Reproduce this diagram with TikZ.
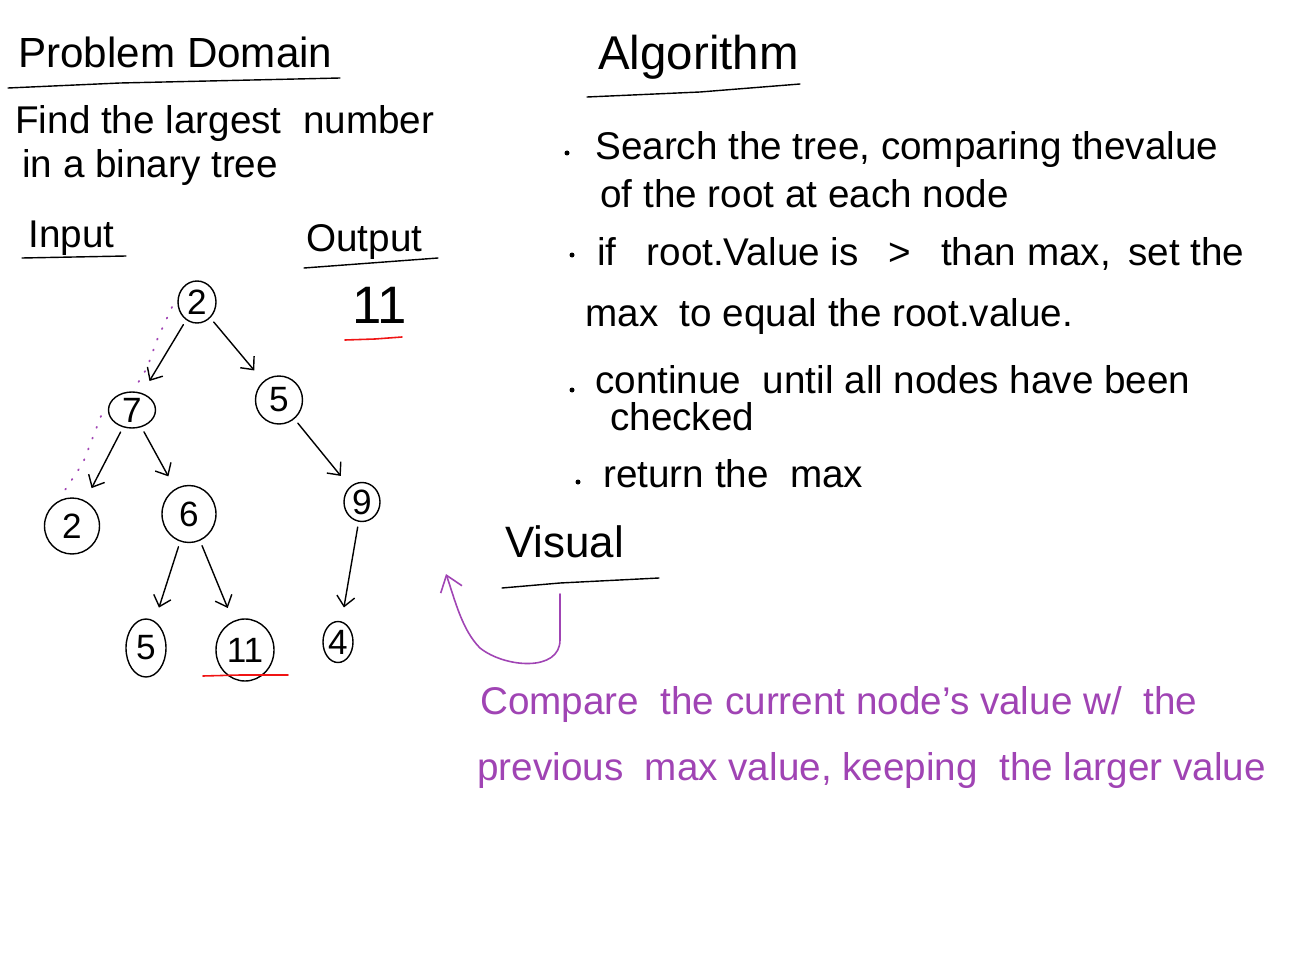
\documentclass[tikz,border=0pt]{standalone}
\usepackage{fontspec}
\setmainfont{Liberation Sans}
\definecolor{sketchPurple}{HTML}{A044B4}
\definecolor{sketchRed}{HTML}{F01414}
\usetikzlibrary{
	arrows.meta,
	shapes.geometric
}
\tikzset{
	textHand/.style={
		anchor=base west,
		inner sep=0pt,
		font=\fontsize{22}{26}\selectfont
	},
	textTitle/.style={
		textHand,
		font=\fontsize{25}{30}\selectfont
	},
	textNote/.style={
		textHand,
		text=sketchPurple
	},
	nodeTree/.style={
		ellipse,
		draw,
		line width=0.8pt,
		inner sep=0pt,
		font=\fontsize{20}{24}\selectfont
	},
	arrowTree/.style={
		-{Straight Barb[length=2mm,width=3.6mm]},
		line width=0.8pt,
		shorten <=3pt,
		shorten >=8pt
	},
	lineUnder/.style={
		line width=0.8pt
	},
	lineRed/.style={
		line width=0.9pt,
		draw=sketchRed
	},
	arrowNote/.style={
		-{Straight Barb[length=3mm,width=4.5mm]},
		line width=0.9pt,
		draw=sketchPurple
	},
	dotNote/.style={
		line width=1pt,
		draw=sketchPurple,
		dash pattern=on 0.6pt off 6pt
	}
}

\begin{document}
\begin{tikzpicture}[x=0.02cm, y=-0.02cm, line cap=round]
		\fill[white] (0,0) rectangle (1306,980);
		\useasboundingbox (0,0) rectangle (1306,980);
		% problem domain
		\node[textTitle, font=\fontsize{24}{29}\selectfont] (domTitle) at (18,68) {Problem Domain};
		\draw[lineUnder] (8,88) -- (120,83) -- (340,78);
		\node[textHand] (domLineA) at (15,133) {Find the largest \ number};
		\node[textHand] (domLineB) at (22,177) {in a binary tree};
		\node[textHand] (inTitle) at (28,248) {Input};
		\draw[lineUnder] (22,258) -- (126,256);
		\node[textHand] (outTitle) at (306,252) {Output};
		\draw[lineUnder] (304,268) -- (438,258);
		\node[textHand, font=\fontsize{30}{34}\selectfont] (outVal) at (352,323) {11};
		\draw[lineRed] (345,340) -- (375,339) -- (402,337);
		% tree
		\foreach \nm/\x/\y/\w/\h/\lab in {nRoot/197/302/38/42/2,nSeven/132/410/47/36/7,nFive/279/400/47/48/5,nTwo/72/526/55/56/2,nSix/189/514/54/57/6,nNine/362/502/36/39/9,nFiveLeaf/146/648/40/58/5,nEleven/245/650/58/62/11,nFour/338/642/30/41/4}{
			\node[nodeTree, minimum width=\w*0.02cm, minimum height=\h*0.02cm] (\nm) at (\x,\y) {\lab};
		}
		\foreach \a/\b in {nRoot/nSeven,nRoot/nFive,nSeven/nTwo,nSeven/nSix,nFive/nNine,nSix/nFiveLeaf,nSix/nEleven,nNine/nFour}{
			\draw[arrowTree] (\a) -- (\b);
		}
		\draw[lineRed] (203,676) -- (240,675) -- (288,675);
		\draw[dotNote] (172,307) -- (157,340) -- (147,368) -- (136,386);
		\draw[dotNote] (101,416) -- (83,463) -- (61,496);
		% algorithm
		\node[textTitle, font=\fontsize{27}{32}\selectfont] (algTitle) at (598,70) {Algorithm};
		\draw[lineUnder] (587,97) -- (700,92) -- (800,84);
		\foreach \x/\y in {567/153,572/255,572/390,578/482}{
			\fill (\x,\y) circle (2.5);
		}
		\node[textHand] (algA) at (595,160) {Search the tree, comparing thevalue};
		\node[textHand] (algB) at (600,208) {of the root at each node};
		\node[textHand] (algC) at (597,265) {if\hspace{0.6cm}root.Value is\hspace{0.6cm}>\hspace{0.6cm}than max,\hspace{0.35cm}set the};
		\node[textHand] (algD) at (585,326) {max \ to equal the root.value.};
		\node[textHand] (algE) at (595,393) {continue \ until all nodes have been};
		\node[textHand] (algF) at (610,430) {checked};
		\node[textHand] (algG) at (603,487) {return the \ max};
		% visual
		\node[textTitle] (visTitle) at (505,557) {Visual};
		\draw[lineUnder] (502,588) -- (560,583) -- (659,578);
		\coordinate (visStart) at (560,594);
		\coordinate (visTip) at (446,574);
		\draw[arrowNote] (visStart) -- (560,640) .. controls (560,672) and (505,668) .. (480,648) .. controls (462,630) and (455,600) .. (visTip);
		\node[textNote] (noteA) at (480,714) {Compare \ the current node's value w/ \ the};
		\node[textNote] (noteB) at (477,780) {previous \ max value, keeping \ the larger value};
	\end{tikzpicture}
\end{document}
